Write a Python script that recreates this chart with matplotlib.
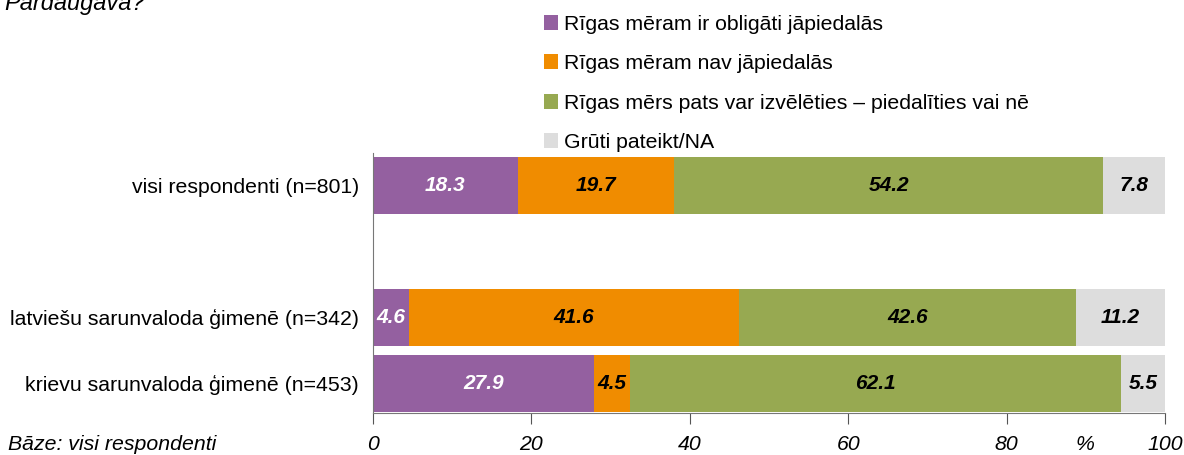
import matplotlib.pyplot as plt
import numpy as np

plt.rcParams['font.family'] = ['Liberation Sans', 'DejaVu Sans']

groups = ['visi respondenti (n=801)', '', 'latviešu sarunvaloda ģimenē (n=342)',
          'krievu sarunvaloda ģimenē (n=453)']
series_names = ['Rīgas mēram ir obligāti jāpiedalās',
                'Rīgas mēram nav jāpiedalās',
                'Rīgas mērs pats var izvēlēties – piedalīties vai nē',
                'Grūti pateikt/NA']
obligati = [18.3, None, 4.6, 27.9]
nav = [19.7, None, 41.6, 4.5]
izveleties = [54.2, None, 42.6, 62.1]
gruti = [7.8, None, 11.2, 5.5]
colors = ['#9460A0', '#F08C00', '#97A951', '#DDDDDD']
text_colors = ['white', 'black', 'black', 'black']

fig = plt.figure(figsize=(11.84, 4.55), dpi=100)
ax = fig.add_axes([0.315, 0.0923, 0.669, 0.5714])

y = np.arange(len(groups))
left = np.zeros(len(groups))
for vals, name, c, tc in zip([obligati, nav, izveleties, gruti], series_names, colors, text_colors):
    v = np.array([0 if x is None else x for x in vals], dtype=float)
    ax.barh(y, v, left=left, height=0.864, color=c, label=name)
    for i, val in enumerate(vals):
        if val is not None:
            ax.text(left[i] + val / 2, y[i], f'{val:.1f}', ha='center', va='center',
                    color=tc, fontsize=15, fontweight='bold', fontstyle='italic')
    left += v

ax.set_xlim(0, 100)
ax.set_ylim(3.447, -0.49)
ax.set_yticks([0, 2, 3])
ax.set_yticklabels([groups[0], groups[2], groups[3]], fontsize=15.3)
ax.tick_params(axis='y', length=0, pad=10)
ax.set_xticks([0, 20, 40, 60, 80, 100])
ax.set_xticklabels(['0', '20', '40', '60', '80', '100'], fontsize=15.3, fontstyle='italic')
ax.tick_params(axis='x', length=8, color='#555555', pad=8)
for s in ['top', 'right']:
    ax.spines[s].set_visible(False)
ax.spines['left'].set_color('#777777')
ax.spines['bottom'].set_color('#777777')

fig.text(1085 / 1184, 1 - 445 / 455, '%', ha='center', va='center', fontsize=15.3, fontstyle='italic')
fig.text(8 / 1184, 1 - 445 / 455, 'Bāze: visi respondenti', ha='left', va='center',
         fontsize=15.3, fontstyle='italic')
fig.text(4 / 1184, 1 - 10 / 455, 'Pārdaugavā?', ha='left', va='baseline',
         fontsize=17, fontstyle='italic')

fig.legend(loc='upper left', bbox_to_anchor=(535 / 1184, 1 - 6 / 455), frameon=False,
           fontsize=15.3, handlelength=0.7, handleheight=0.7, handletextpad=0.25,
           labelspacing=0.97, borderaxespad=0)

fig.savefig('out.png', dpi=100)
